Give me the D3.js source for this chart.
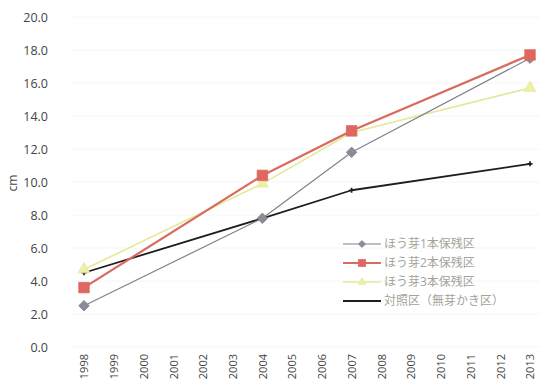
<!DOCTYPE html>
<html>
<head>
<meta charset="utf-8">
<script src="https://cdn.jsdelivr.net/npm/d3@7"></script>
<style>
  html, body { margin: 0; padding: 0; background: #fff; }
  svg { display: block; }
  text { font-family: "Open Sans", "Noto Sans CJK JP", sans-serif; }
</style>
</head>
<body>
<svg id="chart" width="541" height="390"></svg>
<script>
// Years on the category axis
const years = ["1998","1999","2000","2001","2002","2003","2004","2005","2006","2007","2008","2009","2010","2011","2012","2013"];
// Measured years (other years have no observations)
const measuredYears = ["1998","2004","2007","2013"];
// Stem diameter (cm) per treatment plot
const seriesNames = ["ほう芽1本保残区","ほう芽2本保残区","ほう芽3本保残区","対照区（無芽かき区）"];
const oneStem   = [2.5, 7.8, 11.8, 17.5];
const twoStem   = [3.6, 10.4, 13.1, 17.7];
const threeStem = [4.7, 9.9, 13.0, 15.7];
const control   = [4.5, 7.8, 9.5, 11.1];
const yTicks = [0, 2, 4, 6, 8, 10, 12, 14, 16, 18, 20];

const svg = d3.select("#chart");
const x = d3.scalePoint().domain(years).range([84, 530]);
const y = d3.scaleLinear().domain([0, 20]).range([347, 17]);

// faint horizontal gridlines
svg.append("g").selectAll("line").data(yTicks).join("line")
  .attr("x1", 70).attr("x2", 540)
  .attr("y1", d => y(d)).attr("y2", d => y(d))
  .attr("stroke", "#f6f6f6").attr("stroke-width", 1);

// y axis labels
const yAxis = d3.axisLeft(y).tickValues(yTicks).tickFormat(d3.format(".1f")).tickSize(0).tickPadding(0);
const gy = svg.append("g").attr("transform", "translate(48,0)").call(yAxis);
gy.select(".domain").remove();
gy.selectAll("text").attr("font-size", 12.5).attr("fill", "#444");

// x axis labels, rotated
const xAxis = d3.axisBottom(x).tickSize(0).tickPadding(0);
const gx = svg.append("g").attr("transform", "translate(0,352)").call(xAxis);
gx.select(".domain").remove();
gx.selectAll("text")
  .attr("font-size", 11).attr("fill", "#444")
  .attr("transform", "rotate(-90)")
  .attr("text-anchor", "end")
  .attr("x", -2).attr("y", 0).attr("dy", "0.35em");

// y axis title
svg.append("text").attr("transform", "translate(17,183) rotate(-90)")
  .attr("text-anchor", "middle").attr("font-size", 12).attr("fill", "#444").text("cm");

const series = [
  { name: seriesNames[0], values: oneStem,   color: "#80828e", width: 1.2, marker: "diamond", mfill: "#8a8d98", msize: 55 },
  { name: seriesNames[1], values: twoStem,   color: "#d96a5e", width: 2.2, marker: "square",  mfill: "#e0675f", msize: 110 },
  { name: seriesNames[2], values: threeStem, color: "#e4e89a", width: 1.6, marker: "triangle", mfill: "#eef0a8", msize: 60 },
  { name: seriesNames[3], values: control,   color: "#1e1e1e", width: 1.8, marker: "none" }
];
// diamonds are drawn as squares turned by 45 degrees
const symbolOf = { diamond: d3.symbolSquare, square: d3.symbolSquare, triangle: d3.symbolTriangle };
const turn = m => (m === "diamond" ? " rotate(45)" : "");

const line = d3.line().x(d => x(d.year)).y(d => y(d.v));

// draw control first so it sits below the other lines
[3, 2, 0, 1].forEach(i => {
  const s = series[i];
  const pts = measuredYears.map((yr, k) => ({ year: yr, v: s.values[k] }));
  svg.append("path").datum(pts).attr("d", line)
    .attr("fill", "none").attr("stroke", s.color).attr("stroke-width", s.width)
    .attr("stroke-linejoin", "round");
  if (s.marker !== "none") {
    svg.append("g").selectAll("path").data(pts).join("path")
      .attr("transform", d => `translate(${x(d.year)},${y(d.v)})` + turn(s.marker))
      .attr("d", d3.symbol().type(symbolOf[s.marker]).size(s.msize))
      .attr("fill", s.mfill).attr("stroke", s.color).attr("stroke-width", 0.8);
  } else {
    svg.append("g").selectAll("path").data(pts).join("path")
      .attr("transform", d => `translate(${x(d.year)},${y(d.v)})`)
      .attr("d", d3.symbol().type(d3.symbolCross).size(14))
      .attr("fill", s.color);
  }
});

// legend
const legend = svg.append("g").attr("transform", "translate(343,244)");
series.forEach((s, i) => {
  const g = legend.append("g").attr("transform", `translate(0,${i * 19})`);
  g.append("line").attr("x1", 0).attr("x2", 38).attr("y1", 0).attr("y2", 0)
    .attr("stroke", s.color).attr("stroke-width", s.width);
  if (s.marker !== "none") {
    g.append("path").attr("transform", "translate(19,0)" + turn(s.marker))
      .attr("d", d3.symbol().type(symbolOf[s.marker]).size(s.marker === "square" ? 50 : 24))
      .attr("fill", s.mfill).attr("stroke", s.color).attr("stroke-width", 0.8);
  }
  g.append("text").attr("x", 41).attr("y", 0).attr("dy", "0.35em")
    .attr("font-size", 12).attr("fill", "#a4a49a").text(s.name);
});
</script>
</body>
</html>
